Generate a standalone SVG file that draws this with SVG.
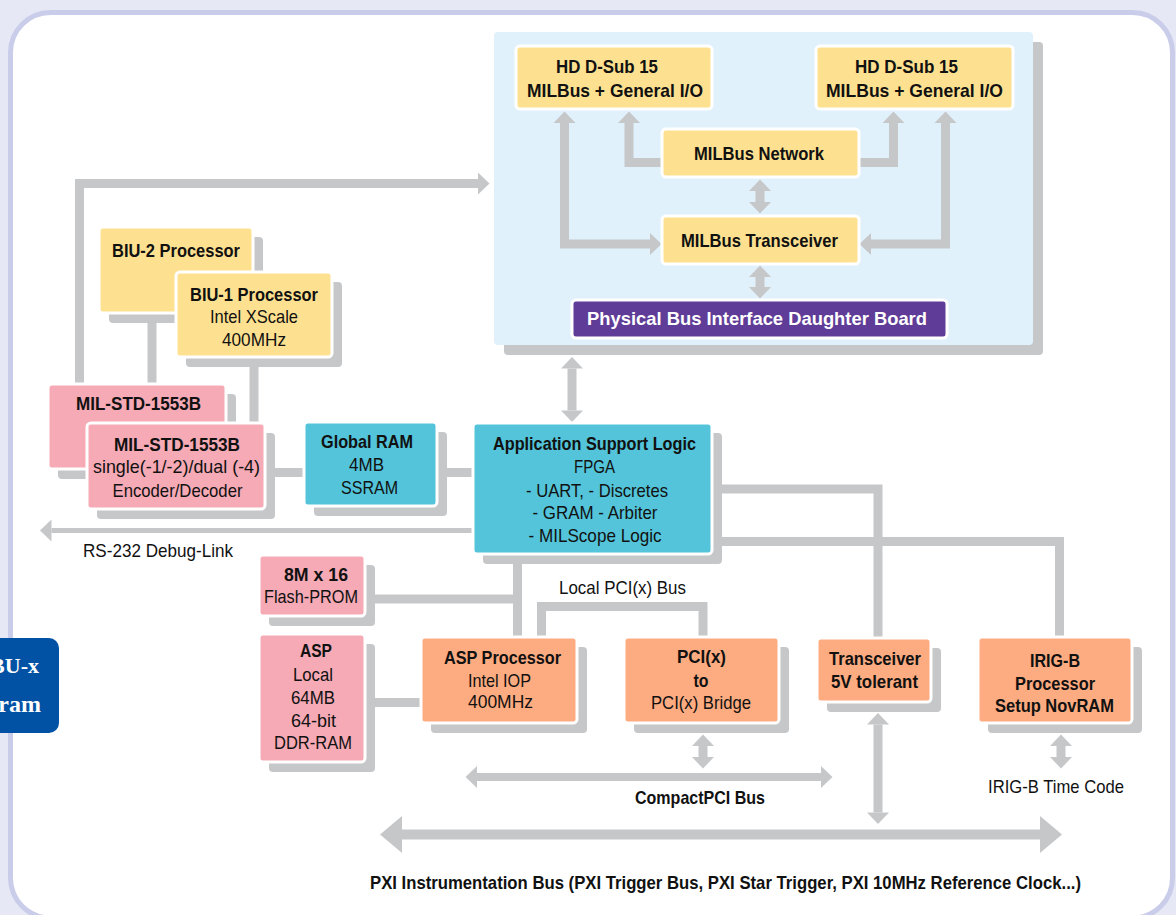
<svg xmlns="http://www.w3.org/2000/svg" width="1176" height="915" viewBox="0 0 1176 915">
<style>
.t{font-family:"Liberation Sans Narrow","Liberation Sans",Arial,sans-serif;font-size:19px;text-anchor:middle;fill:#111}
.b{font-weight:bold}
.sh{fill:#c6c7c9}
.bx{stroke:#fff;stroke-width:3}
.y{fill:#fee190}.p{fill:#f5aab5}.c{fill:#53c4d9}.o{fill:#fdab80}
.ln{fill:none;stroke:#c6c7c9;stroke-width:9}
</style>
<defs>
<marker id="ah" markerUnits="userSpaceOnUse" markerWidth="12" markerHeight="22" refX="0" refY="11" orient="auto-start-reverse" overflow="visible"><path d="M0,0 L11.5,11 L0,22 Z" fill="#c6c7c9"/></marker>
<marker id="ahL" markerUnits="userSpaceOnUse" markerWidth="23" markerHeight="37" refX="0" refY="18.5" orient="auto-start-reverse" overflow="visible"><path d="M0,0 L22,18.5 L0,37 Z" fill="#c6c7c9"/></marker>
</defs>
<rect x="0" y="0" width="1176" height="915" fill="#e6e8f5"/>
<rect x="10.5" y="12.5" width="1162" height="905.5" rx="40" fill="#fff" stroke="#c9cde9" stroke-width="5"/>

<g id="label-left">
<rect x="-20" y="638" width="79" height="95" rx="10" fill="#0152a4"/>
<text x="39" y="673" font-family="Liberation Serif,serif" font-weight="bold" font-size="22" fill="#fff" text-anchor="end">BU-x</text>
<text x="41" y="712" font-family="Liberation Serif,serif" font-weight="bold" font-size="24" fill="#fff" text-anchor="end">ram</text>
</g>

<g id="daughter-board">
<rect class="sh" x="504" y="42" width="539" height="313" rx="4"/>
<rect x="494" y="32" width="539" height="313" rx="4" fill="#e1f1fc"/>
</g>

<g id="connectors">
<path class="ln" d="M564.5,123 V244 H650" marker-start="url(#ah)" marker-end="url(#ah)"/>
<path class="ln" d="M662,162.5 H629 V123" marker-end="url(#ah)"/>
<path class="ln" d="M859,162.5 H893.5 V123" marker-end="url(#ah)"/>
<path class="ln" d="M945.5,123 V244 H871" marker-start="url(#ah)" marker-end="url(#ah)"/>
<path class="ln" d="M760,191 V202" marker-start="url(#ah)" marker-end="url(#ah)"/>
<path class="ln" d="M760,277 V287" marker-start="url(#ah)" marker-end="url(#ah)"/>
<path class="ln" d="M572,368.5 V410.5" marker-start="url(#ah)" marker-end="url(#ah)"/>
<path class="ln" d="M79.5,384 V183.5 H478" marker-end="url(#ah)"/>
<path class="ln" d="M152,313 V384"/>
<path class="ln" d="M254,357 V423"/>
<path class="ln" d="M265,472.5 H304"/>
<path class="ln" d="M437,472.5 H473"/>
<path class="ln" d="M473,530.5 H51.5" style="stroke-width:5" marker-end="url(#ah)"/>
<path class="ln" d="M517.5,554 V637"/>
<path class="ln" d="M365,599 H517.5"/>
<path class="ln" d="M541.5,637 V606.5 H703 V637"/>
<path class="ln" d="M365,702.5 H421"/>
<path class="ln" d="M712,489 H878 V638"/>
<path class="ln" d="M712,541.5 H1059.5 V637"/>
<path class="ln" d="M703,746 V757" marker-start="url(#ah)" marker-end="url(#ah)"/>
<path class="ln" d="M477,777 H821" style="stroke-width:8" marker-start="url(#ah)" marker-end="url(#ah)"/>
<path class="ln" d="M878,724.5 V812.5" marker-start="url(#ah)" marker-end="url(#ah)"/>
<path class="ln" d="M1061,746 V757" marker-start="url(#ah)" marker-end="url(#ah)"/>
<path class="ln" d="M402,834.5 H1040" style="stroke-width:10" marker-start="url(#ahL)" marker-end="url(#ahL)"/>
</g>

<g id="hd-dsub-left">
<rect class="bx y" x="516" y="46" width="196" height="63" rx="4"/>
<text class="t b" x="607" y="73" font-size="20" textLength="102" lengthAdjust="spacingAndGlyphs">HD D-Sub 15</text>
<text class="t b" x="615" y="97" font-size="20" textLength="176" lengthAdjust="spacingAndGlyphs">MILBus + General I/O</text>
</g>
<g id="hd-dsub-right">
<rect class="bx y" x="816" y="46" width="197" height="63" rx="4"/>
<text class="t b" x="906.5" y="73" font-size="20" textLength="103" lengthAdjust="spacingAndGlyphs">HD D-Sub 15</text>
<text class="t b" x="914.5" y="97" font-size="20" textLength="177" lengthAdjust="spacingAndGlyphs">MILBus + General I/O</text>
</g>
<g id="milbus-network">
<rect class="bx y" x="662" y="129" width="197" height="48" rx="4"/>
<text class="t b" x="759" y="160" font-size="20" textLength="130" lengthAdjust="spacingAndGlyphs">MILBus Network</text>
</g>
<g id="milbus-transceiver">
<rect class="bx y" x="662" y="216" width="197" height="48" rx="4"/>
<text class="t b" x="759.5" y="247" font-size="20" textLength="157" lengthAdjust="spacingAndGlyphs">MILBus Transceiver</text>
</g>
<g id="physical-bus-interface">
<rect class="bx" x="572" y="300" width="375" height="38" rx="4" fill="#5f3c97"/>
<text class="t b" x="757" y="325" font-size="21" style="fill:#fff" textLength="340" lengthAdjust="spacingAndGlyphs">Physical Bus Interface Daughter Board</text>
</g>

<g id="biu2">
<rect class="sh" x="109" y="237" width="154" height="86" rx="4"/>
<rect class="bx y" x="99" y="227" width="154" height="86" rx="4"/>
<text class="t b" x="176" y="257" textLength="128" lengthAdjust="spacingAndGlyphs">BIU-2 Processor</text>
</g>
<g id="biu1">
<rect class="sh" x="186" y="282" width="156" height="85" rx="4"/>
<rect class="bx y" x="176" y="272" width="156" height="85" rx="4"/>
<text class="t b" x="254" y="301" textLength="128" lengthAdjust="spacingAndGlyphs">BIU-1 Processor</text>
<text class="t" x="254" y="323" textLength="88" lengthAdjust="spacingAndGlyphs">Intel XScale</text>
<text class="t" x="254" y="346" textLength="64" lengthAdjust="spacingAndGlyphs">400MHz</text>
</g>
<g id="mil-back">
<rect class="sh" x="58" y="394" width="178" height="85" rx="4"/>
<rect class="bx p" x="48" y="384" width="178" height="85" rx="4"/>
<text class="t b" x="138.5" y="410" textLength="125" lengthAdjust="spacingAndGlyphs">MIL-STD-1553B</text>
</g>
<g id="mil-front">
<rect class="sh" x="97" y="433" width="178" height="86" rx="4"/>
<rect class="bx p" x="87" y="423" width="178" height="86" rx="4"/>
<text class="t b" x="177" y="451" textLength="126" lengthAdjust="spacingAndGlyphs">MIL-STD-1553B</text>
<text class="t" x="176.5" y="473" textLength="167" lengthAdjust="spacingAndGlyphs">single(-1/-2)/dual (-4)</text>
<text class="t" x="177.5" y="497" textLength="130" lengthAdjust="spacingAndGlyphs">Encoder/Decoder</text>
</g>
<g id="global-ram">
<rect class="sh" x="314" y="432" width="133" height="84" rx="4"/>
<rect class="bx c" x="304" y="422" width="133" height="84" rx="4"/>
<text class="t b" x="367" y="448" textLength="92" lengthAdjust="spacingAndGlyphs">Global RAM</text>
<text class="t" x="366.5" y="471" textLength="35" lengthAdjust="spacingAndGlyphs">4MB</text>
<text class="t" x="369.5" y="494" textLength="57" lengthAdjust="spacingAndGlyphs">SSRAM</text>
</g>
<g id="asl">
<rect class="sh" x="483" y="433" width="239" height="131" rx="4"/>
<rect class="bx c" x="473" y="423" width="239" height="131" rx="4"/>
<text class="t b" x="594.5" y="450" textLength="203" lengthAdjust="spacingAndGlyphs">Application Support Logic</text>
<text class="t" x="594.5" y="473" textLength="41" lengthAdjust="spacingAndGlyphs">FPGA</text>
<text class="t" x="597" y="497" textLength="142" lengthAdjust="spacingAndGlyphs">- UART, - Discretes</text>
<text class="t" x="595" y="519" textLength="125" lengthAdjust="spacingAndGlyphs">- GRAM - Arbiter</text>
<text class="t" x="595" y="542" textLength="133" lengthAdjust="spacingAndGlyphs">- MILScope Logic</text>
</g>
<g id="flash">
<rect class="sh" x="269" y="565" width="106" height="61" rx="4"/>
<rect class="bx p" x="259" y="555" width="106" height="61" rx="4"/>
<text class="t b" x="316" y="581" textLength="64" lengthAdjust="spacingAndGlyphs">8M x 16</text>
<text class="t" x="311" y="603" textLength="94" lengthAdjust="spacingAndGlyphs">Flash-PROM</text>
</g>
<g id="asp-local">
<rect class="sh" x="269" y="644" width="106" height="128" rx="4"/>
<rect class="bx p" x="259" y="634" width="106" height="128" rx="4"/>
<text class="t b" x="316" y="657" textLength="32" lengthAdjust="spacingAndGlyphs">ASP</text>
<text class="t" x="313" y="681" textLength="40" lengthAdjust="spacingAndGlyphs">Local</text>
<text class="t" x="313" y="704" textLength="44" lengthAdjust="spacingAndGlyphs">64MB</text>
<text class="t" x="313.5" y="727" textLength="45" lengthAdjust="spacingAndGlyphs">64-bit</text>
<text class="t" x="313" y="749" textLength="78" lengthAdjust="spacingAndGlyphs">DDR-RAM</text>
</g>
<g id="asp-processor">
<rect class="sh" x="431" y="647" width="156" height="86" rx="4"/>
<rect class="bx o" x="421" y="637" width="156" height="86" rx="4"/>
<text class="t b" x="502.5" y="664" textLength="117" lengthAdjust="spacingAndGlyphs">ASP Processor</text>
<text class="t" x="499.5" y="687" textLength="63" lengthAdjust="spacingAndGlyphs">Intel IOP</text>
<text class="t" x="500.5" y="708" textLength="65" lengthAdjust="spacingAndGlyphs">400MHz</text>
</g>
<g id="pci-bridge">
<rect class="sh" x="634" y="647" width="155" height="86" rx="4"/>
<rect class="bx o" x="624" y="637" width="155" height="86" rx="4"/>
<text class="t b" x="701.5" y="663" textLength="49" lengthAdjust="spacingAndGlyphs">PCI(x)</text>
<text class="t b" x="701" y="687" textLength="15" lengthAdjust="spacingAndGlyphs">to</text>
<text class="t" x="701" y="709" textLength="100" lengthAdjust="spacingAndGlyphs">PCI(x) Bridge</text>
</g>
<g id="transceiver-5v">
<rect class="sh" x="827" y="648" width="114" height="64" rx="4"/>
<rect class="bx o" x="817" y="638" width="114" height="64" rx="4"/>
<text class="t b" x="875" y="665" textLength="92" lengthAdjust="spacingAndGlyphs">Transceiver</text>
<text class="t b" x="874.5" y="688" textLength="87" lengthAdjust="spacingAndGlyphs">5V tolerant</text>
</g>
<g id="irig-b">
<rect class="sh" x="988" y="647" width="154" height="86" rx="4"/>
<rect class="bx o" x="978" y="637" width="154" height="86" rx="4"/>
<text class="t b" x="1055" y="667" textLength="50" lengthAdjust="spacingAndGlyphs">IRIG-B</text>
<text class="t b" x="1055" y="690" textLength="80" lengthAdjust="spacingAndGlyphs">Processor</text>
<text class="t b" x="1054.5" y="712" textLength="119" lengthAdjust="spacingAndGlyphs">Setup NovRAM</text>
</g>

<g id="labels">
<text class="t" x="158" y="557" textLength="150" lengthAdjust="spacingAndGlyphs">RS-232 Debug-Link</text>
<text class="t" x="622.5" y="594" textLength="127" lengthAdjust="spacingAndGlyphs">Local PCI(x) Bus</text>
<text class="t b" x="700" y="804" textLength="130" lengthAdjust="spacingAndGlyphs">CompactPCI Bus</text>
<text class="t" x="1056" y="793" textLength="136" lengthAdjust="spacingAndGlyphs">IRIG-B Time Code</text>
<text class="t b" x="725.5" y="889" textLength="711" lengthAdjust="spacingAndGlyphs">PXI Instrumentation Bus (PXI Trigger Bus, PXI Star Trigger, PXI 10MHz Reference Clock...)</text>
</g>
</svg>
